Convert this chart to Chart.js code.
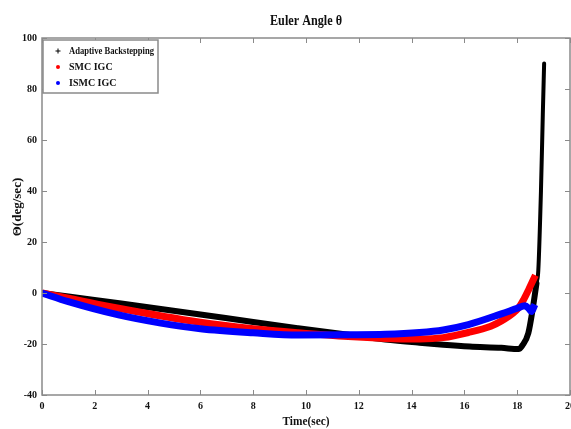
<!DOCTYPE html>
<html>
<head>
<meta charset="utf-8">
<script src="https://cdn.jsdelivr.net/npm/chart.js@4"></script>
<style>
  body { margin: 0; background: #fff; }
  #wrap { width: 571px; height: 429px; }
</style>
</head>
<body>
<div id="wrap"><canvas id="euler-chart" width="571" height="429"></canvas></div>
<script>
'use strict';

// *************** DATA
let timeBlack = [0, 1, 3, 6, 8, 9.7, 11.6, 13, 14.3, 15.2, 16.2, 17.4, 18.05, 18.2, 18.42, 18.6, 18.73, 18.8, 18.9, 18.97, 19.02];
let thetaBlack = [0, -1.4, -4.1, -8.4, -11.4, -13.8, -16.4, -18.2, -19.5, -20.3, -21, -21.5, -22, -20.5, -15.8, -5.4, 3.8, 9, 40, 70, 90];

let timeRed = [0, 1, 2.9, 6, 8, 9.7, 11.6, 13, 14.3, 15.2, 16.15, 17, 17.4, 18.04, 18.25, 18.42, 18.69];
let thetaRed = [0, -2, -6, -11.5, -14, -15.6, -17.1, -17.8, -18, -17.5, -15.5, -13, -11, -6, -2.5, 1, 7];

let timeBlue = [0, 1, 2.9, 4.5, 6, 8, 9.7, 11.6, 13, 14.3, 15.2, 16.15, 17.4, 18, 18.29, 18.45, 18.54, 18.67];
let thetaBlue = [0, -3.4, -8.6, -11.8, -14, -15.6, -16.5, -16.4, -16.2, -15.5, -14.5, -12.4, -8.2, -6, -5, -6.2, -7.3, -4.5];

let seriesNames = ['Adaptive Backstepping', 'SMC IGC', 'ISMC IGC'];
let xTicks = [0, 2, 4, 6, 8, 10, 12, 14, 16, 18, 20];
let yTicks = [-40, -20, 0, 20, 40, 60, 80, 100];

// *************** HELPERS
function toPoints(xs, ys) {
  let pts = [];
  for (let i = 0; i < xs.length; i++) {
    pts.push({ x: xs[i], y: ys[i] });
  }
  return pts;
}

const FONT = '"Liberation Serif", "Times New Roman", serif';
const AXIS_GRAY = '#8a8a8a';

// frame, inward ticks, title, axis titles and legend box
const framePlugin = {
  id: 'frame',
  afterDraw(chart) {
    let ctx = chart.ctx;
    let a = chart.chartArea;
    let xs = chart.scales.x;
    let ys = chart.scales.y;
    ctx.save();

    // box round plot
    ctx.strokeStyle = AXIS_GRAY;
    ctx.lineWidth = 1.5;
    ctx.strokeRect(a.left, a.top, a.right - a.left, a.bottom - a.top);

    // inward tick marks on all four sides
    ctx.lineWidth = 1;
    ctx.beginPath();
    xTicks.forEach(function (v) {
      let px = Math.round(xs.getPixelForValue(v)) + 0.5;
      ctx.moveTo(px, a.bottom); ctx.lineTo(px, a.bottom - 5);
      ctx.moveTo(px, a.top); ctx.lineTo(px, a.top + 5);
    });
    yTicks.forEach(function (v) {
      let py = Math.round(ys.getPixelForValue(v)) + 0.5;
      ctx.moveTo(a.left, py); ctx.lineTo(a.left + 5, py);
      ctx.moveTo(a.right, py); ctx.lineTo(a.right - 5, py);
    });
    ctx.stroke();

    ctx.fillStyle = '#111';
    ctx.textAlign = 'center';
    ctx.textBaseline = 'middle';

    // title
    ctx.font = 'bold 15px ' + FONT;
    ctx.fillText('Euler Angle \u03b8', (a.left + a.right) / 2, 21, 72);

    // x title
    ctx.font = 'bold 13px ' + FONT;
    ctx.fillText('Time(sec)', (a.left + a.right) / 2, 422, 47);

    // y title (rotated)
    ctx.save();
    ctx.translate(18, 207);
    ctx.rotate(-Math.PI / 2);
    ctx.fillText('\u0398(deg/sec)', 0, 0, 68);
    ctx.restore();

    // legend box
    let lx = 43, ly = 40, lw = 115, lh = 53;
    ctx.fillStyle = '#fff';
    ctx.fillRect(lx, ly, lw, lh);
    ctx.strokeStyle = AXIS_GRAY;
    ctx.lineWidth = 1.5;
    ctx.strokeRect(lx, ly, lw, lh);

    let rows = [51, 67, 83];
    let colors = ['#000', '#ff0000', '#0000ff'];
    ctx.textAlign = 'left';
    ctx.font = 'bold 10px ' + FONT;
    for (let i = 0; i < seriesNames.length; i++) {
      if (i === 0) {
        ctx.strokeStyle = '#000';
        ctx.lineWidth = 1;
        ctx.beginPath();
        ctx.moveTo(55.5, rows[i]); ctx.lineTo(60.5, rows[i]);
        ctx.moveTo(58, rows[i] - 2.5); ctx.lineTo(58, rows[i] + 2.5);
        ctx.stroke();
      } else {
        ctx.fillStyle = colors[i];
        ctx.beginPath();
        ctx.arc(58, rows[i], 2, 0, Math.PI * 2);
        ctx.fill();
      }
      ctx.fillStyle = '#111';
      ctx.fillText(seriesNames[i], 69, rows[i] + 0.5, i === 0 ? 85 : 60);
    }
    ctx.restore();
  }
};

// *************** CHART
let chartObj = {
  type: 'scatter',
  data: {
    datasets: [
      {
        label: seriesNames[2],
        data: toPoints(timeBlue, thetaBlue),
        showLine: true,
        borderColor: '#0000ff',
        backgroundColor: '#0000ff',
        borderWidth: 7,
        pointRadius: 0,
        cubicInterpolationMode: 'monotone',
        order: 0
      },
      {
        label: seriesNames[1],
        data: toPoints(timeRed, thetaRed),
        showLine: true,
        borderColor: '#ff0000',
        backgroundColor: '#ff0000',
        borderWidth: 7,
        pointRadius: 0,
        cubicInterpolationMode: 'monotone',
        order: 1
      },
      {
        label: seriesNames[0],
        data: toPoints(timeBlack, thetaBlack),
        showLine: true,
        borderColor: '#000',
        backgroundColor: '#000',
        borderWidth: 6,
        borderCapStyle: 'round',
        pointRadius: 0,
        cubicInterpolationMode: 'monotone',
        // the steep climb at the end is drawn thinner in the picture
        segment: {
          borderWidth: function (c) { return c.p0.parsed.y > 0 ? 4 : 6; }
        },
        order: 2
      }
    ]
  },
  options: {
    responsive: false,
    animation: false,
    devicePixelRatio: 1,
    layout: { padding: { top: 38, left: 0, right: 1, bottom: 0 } },
    plugins: {
      legend: { display: false },
      title: { display: false },
      tooltip: { enabled: false }
    },
    scales: {
      x: {
        type: 'linear',
        min: 0,
        max: 20,
        afterBuildTicks: function (scale) {
          scale.ticks = xTicks.map(function (v) { return { value: v }; });
        },
        afterFit: function (scale) {
          scale.height = 34;
          scale.paddingLeft = 0;
          scale.paddingRight = 0;
        },
        grid: { display: false, drawTicks: false },
        border: { display: false },
        ticks: {
          color: '#111',
          padding: 5,
          maxRotation: 0,
          autoSkip: false,
          font: { family: FONT, size: 10, weight: 'bold' }
        }
      },
      y: {
        min: -40,
        max: 100,
        afterBuildTicks: function (scale) {
          scale.ticks = yTicks.map(function (v) { return { value: v }; });
        },
        afterFit: function (scale) {
          scale.width = 42;
          scale.paddingTop = 0;
          scale.paddingBottom = 0;
        },
        grid: { display: false, drawTicks: false },
        border: { display: false },
        ticks: {
          color: '#111',
          padding: 5,
          autoSkip: false,
          font: { family: FONT, size: 10, weight: 'bold' }
        }
      }
    }
  },
  plugins: [framePlugin]
};

let ctx = document.getElementById('euler-chart').getContext('2d');
let eulerChart = new Chart(ctx, chartObj); //eslint-disable-line
</script>
</body>
</html>
